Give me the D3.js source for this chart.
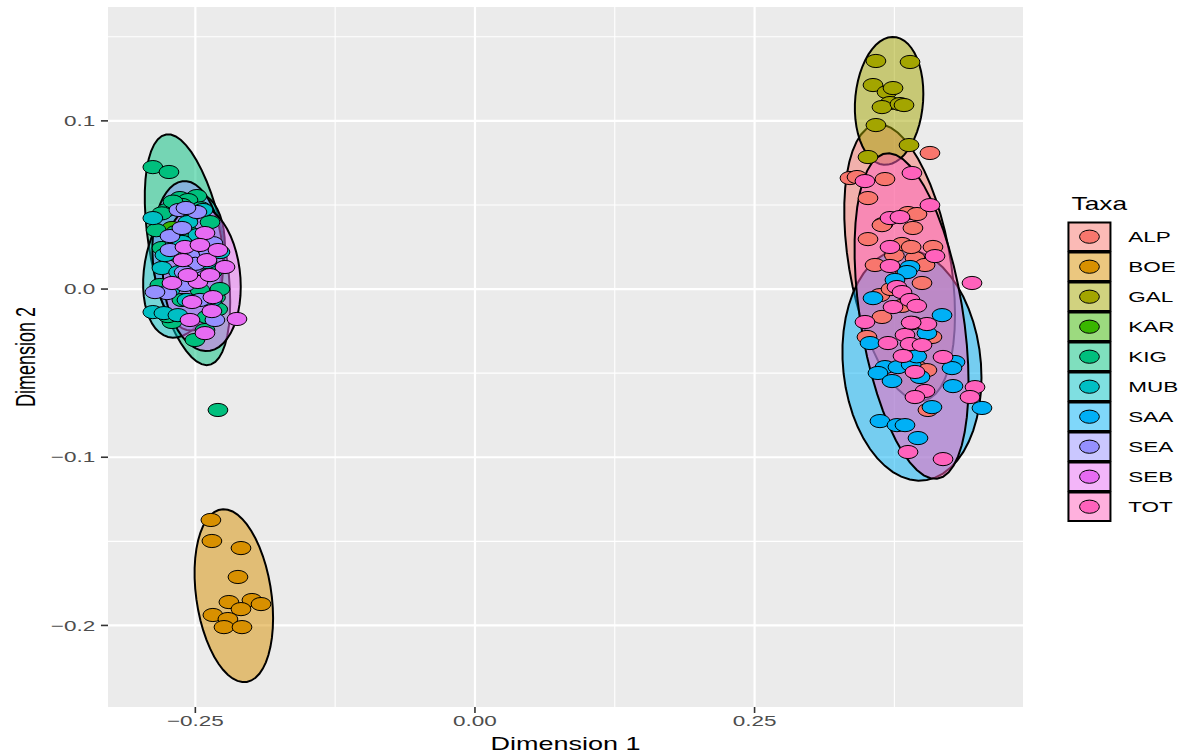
<!DOCTYPE html>
<html lang="en">
<head>
<meta charset="UTF-8">
<script src="https://d3js.org/d3.v7.min.js"></script>
<title>Taxa MDS</title>
<style>
  body { margin: 0; background: #fff; }
  svg { display: block; font-family: "Liberation Sans", Arial, sans-serif; }
</style>
</head>
<body>
<div id="container"></div>
<script>
// taxa (legend order) and points per taxon: [Dimension 1, Dimension 2]
const taxa = ["ALP", "BOE", "GAL", "KAR", "KIG", "MUB", "SAA", "SEA", "SEB", "TOT"];

const ALP = [[0.4068,0.0809],[0.3353,0.066],[0.3416,0.0666],[0.3666,0.0654],[0.3514,0.0541],[0.3648,0.0386],
  [0.3872,0.0452],[0.3952,0.0446],[0.3916,0.0363],[0.3639,0.038],[0.3514,0.0297],[0.3818,0.0268],[0.4095,0.025],
  [0.3577,0.0143],[0.3934,0.0184],[0.4024,0.0143],[0.3997,0.0036],[0.3621,-0.0036],[0.3639,-0.0166],[0.3916,-0.0202],
  [0.4086,-0.0285],[0.3505,-0.0285],[0.3952,-0.0464],[0.4041,-0.0482],[0.405,-0.0719],
  [0.375,0.02],[0.385,0.01],[0.372,0.0],[0.39,0.025],[0.382,-0.01]];
const BOE = [[-0.2361,-0.1373],[-0.2352,-0.1498],[-0.2092,-0.154],[-0.2119,-0.1712],[-0.22,-0.1861],[-0.1994,-0.1849],
  [-0.1913,-0.1873],[-0.2092,-0.1903],[-0.2343,-0.1938],[-0.2209,-0.1962],[-0.2244,-0.201],[-0.2083,-0.201]];
const GAL = [[0.3585,0.1356],[0.389,0.135],[0.3559,0.1213],[0.3684,0.1171],[0.3738,0.1195],[0.3711,0.1106],
  [0.3639,0.1082],[0.38,0.11],[0.3836,0.1094],[0.3585,0.0975],[0.3881,0.0856],[0.3514,0.0785]];
const KAR = [[-0.2709,0.0363],[-0.2548,0.0232]];
const KIG = [[-0.288,0.0725],[-0.2736,0.0696],[-0.2638,0.0541],[-0.2486,0.0553],[-0.2566,0.0529],[-0.2754,0.047],
  [-0.2369,0.0398],[-0.2799,0.0244],[-0.2673,0.0339],[-0.2548,0.0161],[-0.2817,0.0024],[-0.2459,-0.0006],
  [-0.262,-0.0065],[-0.2396,-0.0166],[-0.2709,-0.0196],[-0.2745,-0.0161],[-0.2504,-0.0303],[-0.2298,-0.0719],
  [-0.2414,-0.0244],
  [-0.262,0.03],[-0.255,0.025],[-0.258,0.035],[-0.266,0.02],[-0.252,0.03],
  [-0.262,0.05],[-0.245,0.048],[-0.252,0.045],[-0.27,0.052],
  [-0.235,0.01],[-0.232,-0.005],[-0.24,0.025],
  [-0.228,0.0],[-0.23,-0.012],[-0.285,0.035],[-0.28,0.045],[-0.255,0.02],[-0.258,0.015]];
const MUB = [[-0.288,0.0422],[-0.288,-0.0137],[-0.2781,-0.0143],[-0.2656,-0.0155],[-0.2799,0.0125],[-0.228,0.022],
  [-0.2682,0.0279],[-0.2566,0.0398],[-0.2432,0.047],[-0.253,0.0054],[-0.2727,-0.0006],[-0.2396,0.0161],
  [-0.2575,-0.0065],[-0.2772,0.0202],[-0.2477,0.0321],[-0.2352,-0.0065],
  [-0.26,0.02],[-0.255,0.015],[-0.265,0.01],[-0.25,0.025],[-0.258,0.005],[-0.262,0.028]];
const SAA = [[0.389,0.0131],[0.3863,0.0101],[0.3755,0.0054],[0.3559,-0.0054],[0.4176,-0.0155],[0.4041,-0.0262],
  [0.3532,-0.0321],[0.3666,-0.0464],[0.3782,-0.0464],[0.4292,-0.0434],[0.4265,-0.047],[0.3979,-0.0523],
  [0.3603,-0.0499],[0.3729,-0.0547],[0.4274,-0.0577],[0.4533,-0.0707],[0.4086,-0.0702],[0.3621,-0.0785],
  [0.3773,-0.0809],[0.3845,-0.0809],[0.3961,-0.0886],
  [0.39,-0.045],[0.395,-0.04]];
const SEA = [[-0.2647,0.047],[-0.2486,0.0458],[-0.2584,0.0482],[-0.2727,0.0315],[-0.2343,0.0273],[-0.2754,-0.0024],
  [-0.2861,-0.0018],[-0.2521,0.0131],[-0.2727,0.0232],[-0.262,0.0363],[-0.2414,0.0202],[-0.2459,-0.0065],
  [-0.2593,0.0024],[-0.2325,-0.0184],[-0.2548,0.0232],
  [-0.255,0.02],[-0.25,0.015],[-0.26,0.01]];
const SEB = [[-0.2414,0.0333],[-0.2593,0.025],[-0.2611,0.0172],[-0.2396,0.0172],[-0.2235,0.0131],[-0.2709,0.0036],
  [-0.2477,0.0042],[-0.2566,0.0083],[-0.2369,0.0083],[-0.253,-0.0077],[-0.2343,-0.0048],[-0.2352,-0.0131],
  [-0.2548,-0.0184],[-0.2128,-0.0178],[-0.2414,-0.0262],[-0.2459,0.0262],[-0.2298,0.0232]];
const TOT = [[0.3487,0.0642],[0.3907,0.069],[0.4068,0.0499],[0.3711,0.0422],[0.38,0.0428],[0.3711,0.025],
  [0.4113,0.0196],[0.3711,0.0137],[0.4444,0.0036],[0.3773,0.0012],[0.3818,-0.0018],[0.389,-0.0065],
  [0.3738,-0.0107],[0.3487,-0.0196],[0.4041,-0.0208],[0.3845,-0.0273],[0.3693,-0.0321],[0.389,-0.0327],
  [0.3997,-0.0333],[0.3827,-0.0398],[0.4185,-0.0404],[0.3934,-0.0493],[0.4471,-0.0583],[0.4426,-0.0642],
  [0.4024,-0.0606],[0.3934,-0.0642],[0.3872,-0.0969],[0.4185,-0.1011],
  [0.39,-0.02],[0.395,-0.01]];

const xTicks = [-0.25, 0, 0.25];
const xTickLabels = ["\u22120.25", "0.00", "0.25"];
const yTicks = [-0.2, -0.1, 0, 0.1];
const yTickLabels = ["\u22120.2", "\u22120.1", "0.0", "0.1"];

const groups = { ALP, BOE, GAL, KAR, KIG, MUB, SAA, SEA, SEB, TOT };

// the picture is stretched sideways, so draw in a narrower box and let the svg stretch it
var stretch = 1.5,
    width = 1184 / stretch,
    height = 753,
    panel = { left: 72, right: 682, top: 7, bottom: 707 };

var color = d3.scaleOrdinal().domain(taxa)
    .range(["#F8766D", "#D89000", "#A3A500", "#39B600", "#00BF7D", "#00BFC4", "#00B0F6", "#9590FF", "#E76BF3", "#FF62BC"]);

var x = d3.scaleLinear().domain([-0.3281, 0.49]).range([panel.left, panel.right]);
var y = d3.scaleLinear().domain([-0.2485, 0.1677]).range([panel.bottom, panel.top]);

// MASS::cov.trob (t-distribution, nu = 5), as stat_ellipse uses it
function covTrob(pts) {
    const nu = 5, p = 2, n = pts.length;
    let w = pts.map(() => 1);
    let loc = [d3.mean(pts, d => d[0]), d3.mean(pts, d => d[1])];
    let X;
    for (let iter = 0; iter < 25; iter++) {
        const w0 = w.slice();
        X = pts.map(d => [d[0] - loc[0], d[1] - loc[1]]);
        const sw = d3.sum(w);
        let a = 0, b = 0, c = 0;
        X.forEach((d, i) => { a += w[i] * d[0] * d[0] / sw; b += w[i] * d[0] * d[1] / sw; c += w[i] * d[1] * d[1] / sw; });
        const det = a * c - b * b;
        const Q = X.map(d => (c * d[0] * d[0] - 2 * b * d[0] * d[1] + a * d[1] * d[1]) / det);
        w = Q.map(q => (nu + p) / (nu + q));
        const sw2 = d3.sum(w);
        loc = [d3.sum(pts, (d, i) => w[i] * d[0]) / sw2, d3.sum(pts, (d, i) => w[i] * d[1]) / sw2];
        if (w.every((v, i) => Math.abs(v - w0[i]) < 0.01)) break;
    }
    let a = 0, b = 0, c = 0;
    X.forEach((d, i) => { a += w[i] * d[0] * d[0]; b += w[i] * d[0] * d[1]; c += w[i] * d[1] * d[1]; });
    return { center: loc, cov: [a / n, b / n, c / n] };
}

// 95% ellipse like ggplot2::stat_ellipse (type "t")
function ellipse(pts) {
    const n = pts.length;
    if (n < 3) return null;
    const { center, cov } = covTrob(pts);
    const dfd = n - 1;
    const qf = dfd / 2 * (Math.pow(0.05, -2 / dfd) - 1);
    const radius = Math.sqrt(2 * qf);
    const r11 = Math.sqrt(cov[0]), r12 = cov[1] / r11, r22 = Math.sqrt(cov[2] - r12 * r12);
    return d3.range(52).map(i => {
        const t = i * 2 * Math.PI / 51, u = Math.cos(t), v = Math.sin(t);
        return [center[0] + radius * u * r11, center[1] + radius * (u * r12 + v * r22)];
    });
}

const svg = d3.select("#container").append("svg")
    .attr("width", 1184).attr("height", height)
    .attr("viewBox", [0, 0, width, height])
    .attr("preserveAspectRatio", "none");

svg.append("rect").attr("width", width).attr("height", height).attr("fill", "#fff");

// panel + grid
svg.append("rect")
    .attr("x", panel.left).attr("y", panel.top)
    .attr("width", panel.right - panel.left).attr("height", panel.bottom - panel.top)
    .attr("fill", "#EBEBEB");

function minors(ticks, dom) {
    const step = ticks[1] - ticks[0];
    const out = [ticks[0] - step / 2].concat(ticks.map(t => t + step / 2));
    return out.filter(v => v > dom[0] && v < dom[1]);
}

const grid = svg.append("g").attr("stroke", "#fff").attr("fill", "none");
grid.selectAll(".xmin").data(minors(xTicks, x.domain())).join("line")
    .attr("x1", d => x(d)).attr("x2", d => x(d)).attr("y1", panel.top).attr("y2", panel.bottom)
    .attr("stroke-width", 1.1).attr("vector-effect", "non-scaling-stroke");
grid.selectAll(".ymin").data(minors(yTicks, y.domain())).join("line")
    .attr("y1", d => y(d)).attr("y2", d => y(d)).attr("x1", panel.left).attr("x2", panel.right)
    .attr("stroke-width", 1.1).attr("vector-effect", "non-scaling-stroke");
grid.selectAll(".xmaj").data(xTicks).join("line")
    .attr("x1", d => x(d)).attr("x2", d => x(d)).attr("y1", panel.top).attr("y2", panel.bottom)
    .attr("stroke-width", 2.2).attr("vector-effect", "non-scaling-stroke");
grid.selectAll(".ymaj").data(yTicks).join("line")
    .attr("y1", d => y(d)).attr("y2", d => y(d)).attr("x1", panel.left).attr("x2", panel.right)
    .attr("stroke-width", 2.2).attr("vector-effect", "non-scaling-stroke");

// ellipses
const line = d3.line().x(d => x(d[0])).y(d => y(d[1]));
const ell = taxa.map(t => ({ taxon: t, path: ellipse(groups[t]) })).filter(d => d.path);
svg.append("g").selectAll("path").data(ell).join("path")
    .attr("d", d => line(d.path) + "Z")
    .attr("fill", d => color(d.taxon)).attr("fill-opacity", 0.5)
    .attr("stroke", "#000").attr("stroke-width", 2)
    .attr("vector-effect", "non-scaling-stroke");

// points
const pts = taxa.flatMap(t => groups[t].map(p => ({ taxon: t, x: p[0], y: p[1] })));
svg.append("g").selectAll("circle").data(pts).join("circle")
    .attr("cx", d => x(d.x)).attr("cy", d => y(d.y)).attr("r", 6.6)
    .attr("fill", d => color(d.taxon))
    .attr("stroke", "#000").attr("stroke-width", 1)
    .attr("vector-effect", "non-scaling-stroke");

// axes
const axes = svg.append("g").attr("fill", "#4D4D4D").attr("font-size", 15);
axes.selectAll(".xt").data(xTicks).join("line")
    .attr("x1", d => x(d)).attr("x2", d => x(d)).attr("y1", panel.bottom).attr("y2", panel.bottom + 6)
    .attr("stroke", "#333").attr("stroke-width", 1.6).attr("vector-effect", "non-scaling-stroke");
axes.selectAll(".xl").data(xTicks).join("text")
    .attr("x", d => x(d)).attr("y", 726).attr("text-anchor", "middle")
    .text((d, i) => xTickLabels[i]);
axes.selectAll(".yt").data(yTicks).join("line")
    .attr("y1", d => y(d)).attr("y2", d => y(d)).attr("x1", panel.left - 4.7).attr("x2", panel.left)
    .attr("stroke", "#333").attr("stroke-width", 1.6).attr("vector-effect", "non-scaling-stroke");
axes.selectAll(".yl").data(yTicks).join("text")
    .attr("x", panel.left - 8.5).attr("y", d => y(d)).attr("dy", "0.35em").attr("text-anchor", "end")
    .text((d, i) => yTickLabels[i]);

svg.append("text")
    .attr("x", (panel.left + panel.right) / 2).attr("y", 750)
    .attr("text-anchor", "middle").attr("font-size", 18).attr("fill", "#000")
    .text("Dimension 1");
svg.append("text")
    .attr("transform", `translate(23.5,${(panel.top + panel.bottom) / 2}) rotate(-90)`)
    .attr("text-anchor", "middle").attr("font-size", 18).attr("fill", "#000")
    .text("Dimension 2");

// legend
const lg = svg.append("g").attr("transform", "translate(711.5,221.7)");
lg.append("text").attr("x", 2.9).attr("y", -11.7).attr("font-size", 17.5).attr("fill", "#000").text("Taxa");
const key = lg.selectAll("g").data(taxa).join("g").attr("transform", (d, i) => `translate(0,${i * 30})`);
key.append("rect")
    .attr("x", 0.8).attr("y", 0.8).attr("width", 28).attr("height", 28.4)
    .attr("fill", d => color(d)).attr("fill-opacity", 0.5)
    .attr("stroke", "#000").attr("stroke-width", 2).attr("vector-effect", "non-scaling-stroke");
key.append("circle")
    .attr("cx", 14.8).attr("cy", 15).attr("r", 6.6)
    .attr("fill", d => color(d)).attr("stroke", "#000").attr("stroke-width", 1)
    .attr("vector-effect", "non-scaling-stroke");
key.append("text")
    .attr("x", 40.7).attr("y", 15).attr("dy", "0.36em").attr("font-size", 15).attr("fill", "#000")
    .text(d => d);
</script>
</body>
</html>
